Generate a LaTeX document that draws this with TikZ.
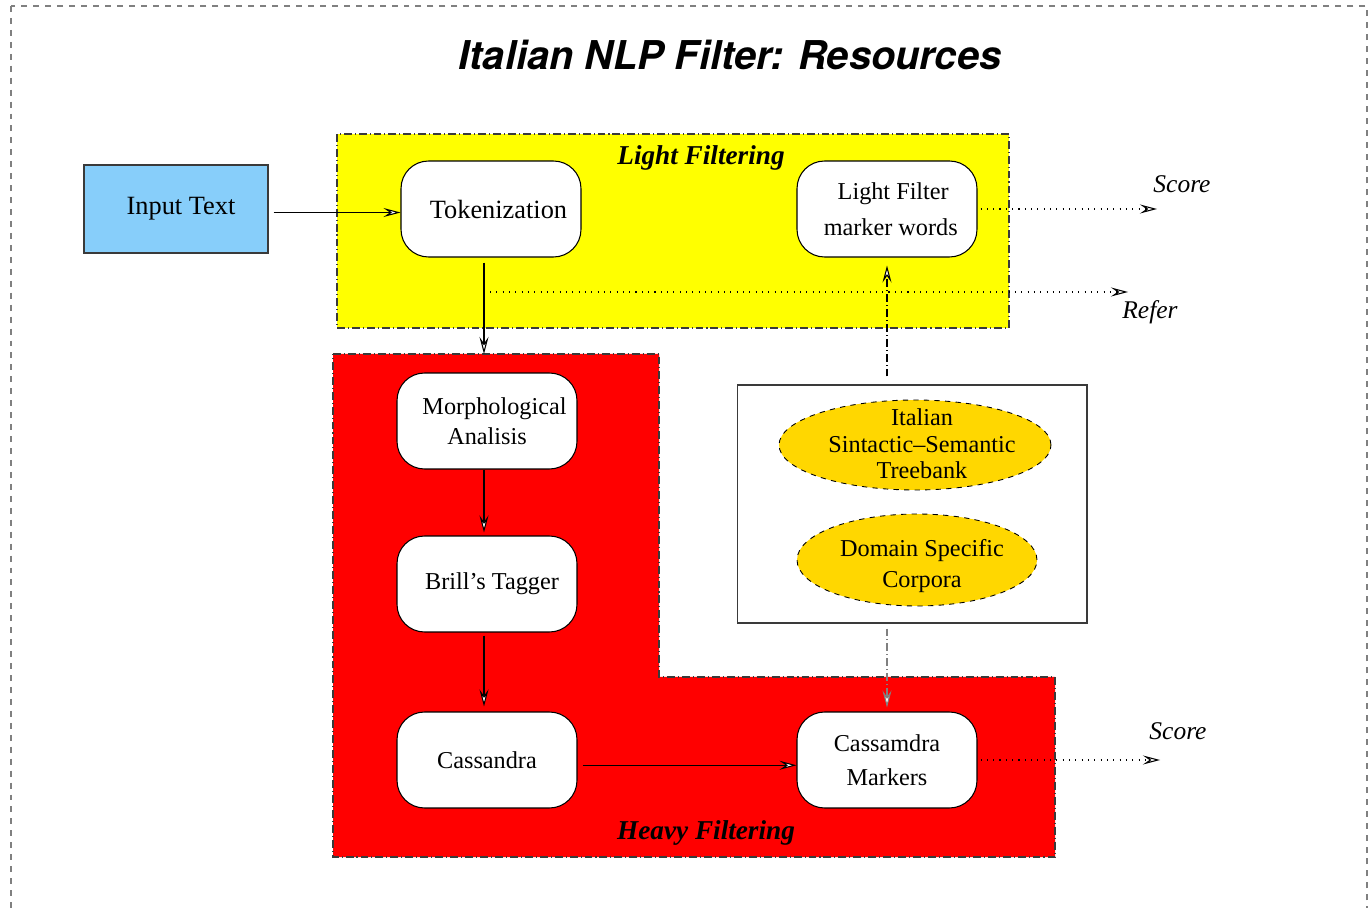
\documentclass[tikz,border=0pt]{standalone}
\usepackage{fontspec}
\setmainfont{Liberation Serif}
\newfontfamily\headfont{TeX Gyre Heros}
\usetikzlibrary{arrows.meta, positioning, shapes.geometric}
\definecolor{cLIGHT}{RGB}{255,255,0}
\definecolor{cHEAVY}{RGB}{255,0,0}
\definecolor{cINPUT}{RGB}{135,206,250}
\definecolor{cRES}{RGB}{255,215,0}
\definecolor{cEDGE}{HTML}{3A3A3A}

\begin{document}
\begin{tikzpicture}[
  x=0.02cm, y=-0.02cm,
  font=\fontsize{13.8}{17}\selectfont,
  stage/.style={draw, rounded corners=0.55cm, fill=white, minimum width=3.6cm, minimum height=1.92cm, align=center, line width=0.6pt},
  corpus/.style={draw, dashed, ellipse, fill=cRES, line width=0.5pt},
  arr/.style={-{Stealth[length=3.4mm, width=1.8mm, inset=1.3mm, fill=white]}, line width=0.6pt},
  outarr/.style={arr, dash pattern=on 0.6pt off 3pt},
  resarr/.style={arr, dash pattern=on 4.5pt off 1.7pt on 0.6pt off 1.7pt},
  region/.style={draw=cEDGE, line width=0.6pt, dash pattern=on 4.5pt off 1.7pt on 0.6pt off 1.7pt},
  tag/.style={font=\fontsize{15.5}{18}\selectfont\bfseries\itshape},
  result/.style={font=\fontsize{14.5}{17}\selectfont\itshape}
]
\useasboundingbox (0,0) rectangle (1370,908);
\clip (0,0) rectangle (1370,908);
\draw[gray, line width=0.6pt, dash pattern=on 3.4pt off 3.4pt] (11,6) rectangle (1367,940);

\node (title) at (730,55) {\fontsize{22.6}{27}\selectfont\headfont\bfseries\itshape Italian NLP Filter: Resources};

% filtering areas
\draw[region, fill=cLIGHT] (337,134) rectangle (1009,328);
\draw[region, fill=cHEAVY] (333,354) -- (659,354) -- (659,677) -- (1055,677) -- (1055,857) -- (333,857) -- cycle;
\node[tag] (lighttag) at (701,158) {Light Filtering};
\node[tag] (heavytag) at (706,833) {Heavy Filtering};

% resources
\node[draw=cEDGE, fill=white, minimum width=7cm, minimum height=4.76cm, line width=0.6pt] (res) at (912,504) {};
\node[corpus, minimum width=5.44cm, minimum height=1.8cm] (tb) at (915,445) {};
\node[align=center, font=\fontsize{13.8}{15}\selectfont] (tbtext) at (922,444) {Italian\\Sintactic--Semantic\\Treebank};
\node[corpus, minimum width=4.8cm, minimum height=1.84cm] (dc) at (917,560) {};
\node[align=center, font=\fontsize{13.8}{17.6}\selectfont] (dctext) at (922,566) {Domain Specific\\Corpora};

% processing stages
\node[draw=cEDGE, fill=cINPUT, minimum width=3.68cm, minimum height=1.76cm, line width=0.6pt, font=\fontsize{15}{18}\selectfont] (inp) at (176,209) {\hspace{0.2cm}\raisebox{-2.5pt}{Input Text}};
\node[stage, font=\fontsize{15}{18}\selectfont] (tok) at (491,209) {\hspace{0.3cm}Tokenization};
\node[stage, font=\fontsize{13.8}{20.4}\selectfont] (lf) at (887,209) {\hspace{0.25cm}Light Filter\\\hspace{0.15cm}marker words};
\node[stage, font=\fontsize{13.8}{17}\selectfont] (morph) at (487,421) {\hspace{0.3cm}Morphological\\Analisis};
\node[stage] (brill) at (487,584) {\hspace{0.2cm}Brill's Tagger};
\node[stage] (cass) at (487,760) {Cassandra};
\node[stage, font=\fontsize{13.8}{19.3}\selectfont] (casm) at (887,760) {Cassamdra\\Markers};

\coordinate (heavytop) at (484,354);
\coordinate (refer0) at (490,292);
\coordinate (referend) at (1128,292);
\coordinate (score1) at (1157,209);
\coordinate (score2) at (1160,760);
\node[result] (refer) at (1150,312) {Refer};
\node[result] (scorelf) at (1182,184) {Score};
\node[result] (scorecm) at (1178,731) {Score};

\draw[arr, shorten <=0.1cm] ([yshift=-2pt]inp.east) -- ([yshift=-2pt]tok.west);
\draw[arr, shorten <=0.1cm] (tok.south -| heavytop) -- (heavytop);
\draw[arr, shorten >=0.06cm] (morph.south -| heavytop) -- (brill.north -| heavytop);
\draw[arr, shorten <=0.06cm, shorten >=0.1cm] (brill.south -| heavytop) -- (cass.north -| heavytop);
\draw[arr, shorten <=0.1cm] ([yshift=-3pt]cass.east) -- ([yshift=-3pt]casm.west);
\draw[outarr, shorten <=0.06cm] (lf.east) -- (score1);
\draw[outarr] (refer0) -- (referend);
\draw[outarr, shorten <=0.06cm] (casm.east) -- (score2);
\draw[resarr, shorten <=0.16cm, shorten >=0.16cm] (res.north -| lf.south) -- (lf.south);
\draw[resarr, draw=gray, shorten <=0.1cm, shorten >=0.08cm] (res.south -| casm.north) -- (casm.north);
\end{tikzpicture}
\end{document}
